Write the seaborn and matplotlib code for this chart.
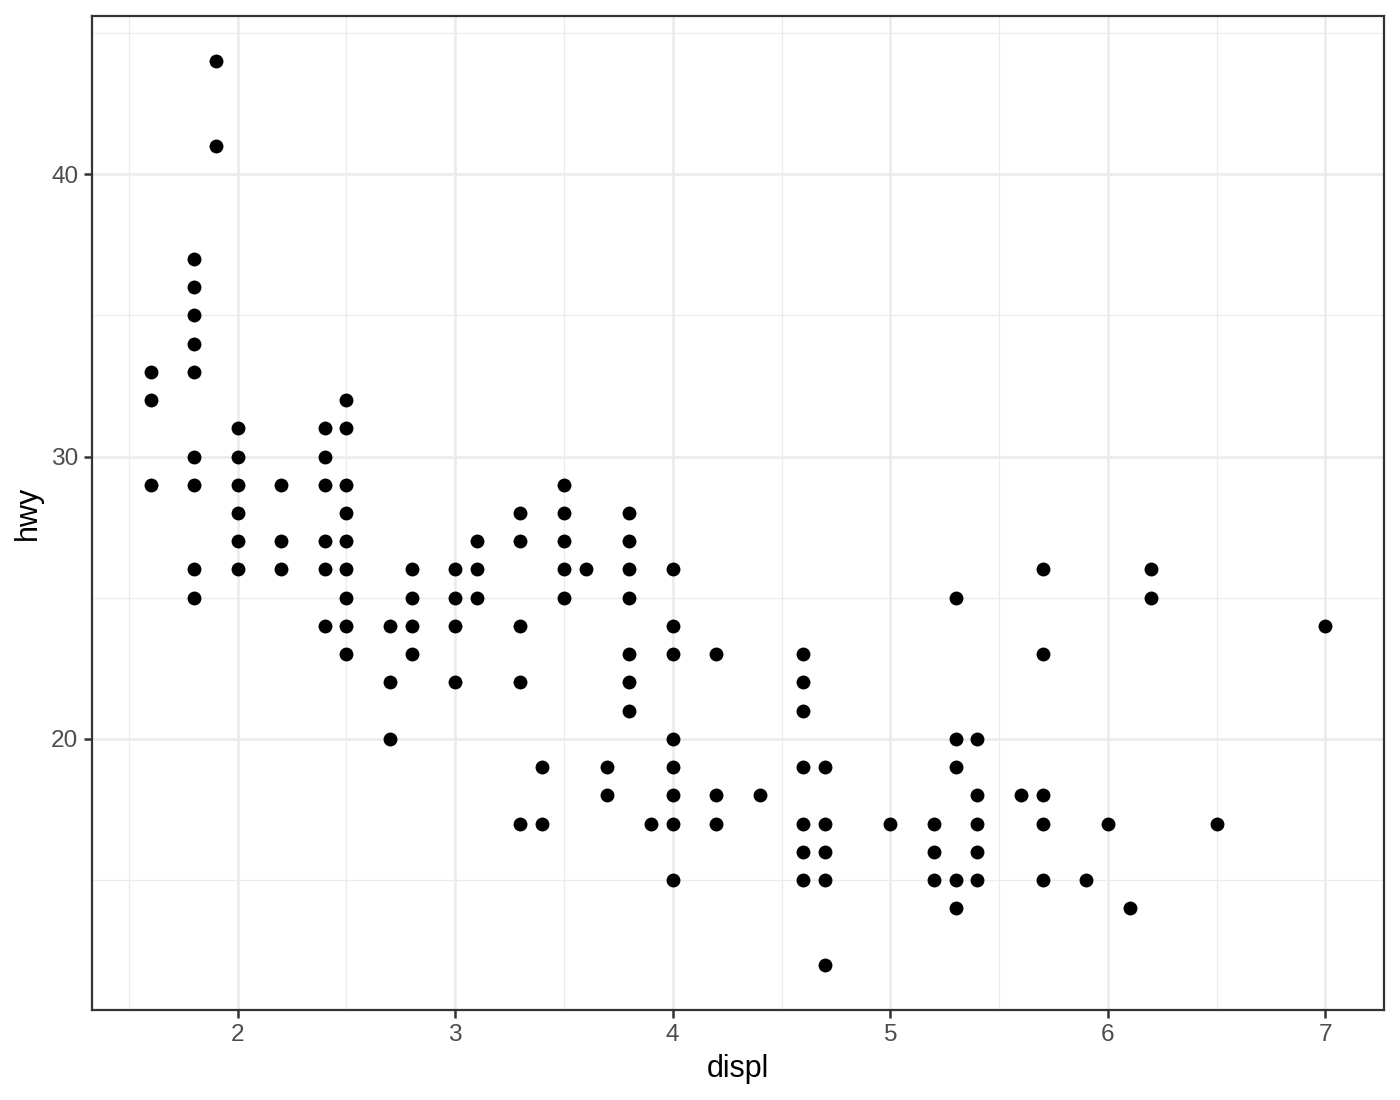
import matplotlib
matplotlib.use("Agg")
import matplotlib.pyplot as plt
import seaborn as sns
import pandas as pd

# unique (displ, hwy) points
displ_values = {
    1.6: [33, 32, 29],
    1.8: [37, 36, 35, 34, 33, 30, 29, 26, 25],
    1.9: [44, 41],
    2.0: [31, 30, 29, 28, 27, 26],
    2.2: [29, 27, 26],
    2.4: [31, 30, 29, 27, 26, 24],
    2.5: [32, 31, 29, 28, 27, 26, 25, 24, 23],
    2.7: [24, 22, 20],
    2.8: [26, 25, 24, 23],
    3.0: [26, 25, 24, 22],
    3.1: [27, 26, 25],
    3.3: [28, 27, 24, 22, 17],
    3.4: [19, 17],
    3.5: [29, 28, 27, 26, 25],
    3.6: [26],
    3.7: [19, 18],
    3.8: [28, 27, 26, 25, 23, 22, 21],
    3.9: [17],
    4.0: [26, 24, 23, 20, 19, 18, 17, 15],
    4.2: [23, 18, 17],
    4.4: [18],
    4.6: [23, 22, 21, 19, 17, 16, 15],
    4.7: [19, 17, 16, 15, 12],
    5.0: [17],
    5.2: [17, 16, 15],
    5.3: [25, 20, 19, 15, 14],
    5.4: [20, 18, 17, 16, 15],
    5.6: [18],
    5.7: [26, 23, 18, 17, 15],
    5.9: [15],
    6.0: [17],
    6.1: [14],
    6.2: [26, 25],
    6.5: [17],
    7.0: [24],
}
displ = [d for d, hs in displ_values.items() for _ in hs]
hwy = [h for hs in displ_values.values() for h in hs]
df = pd.DataFrame({"displ": displ, "hwy": hwy})

x_ticks = [2, 3, 4, 5, 6, 7]
y_ticks = [20, 30, 40]
x_minor = [1.5, 2.5, 3.5, 4.5, 5.5, 6.5]
y_minor = [15, 25, 35, 45]

sns.set_theme(style="white")
plt.rcParams['font.family'] = ['Liberation Sans', 'DejaVu Sans']

fig = plt.figure(figsize=(7, 5.5), dpi=200)
ax = fig.add_axes([92/1400, 1 - 1010/1100, (1384-92)/1400, (1010-16)/1100])

sns.scatterplot(data=df, x="displ", y="hwy", ax=ax, color="black",
                s=25, linewidth=0, zorder=3)

xr = (1.6, 7.0); yr = (12, 44)
xe = (xr[1]-xr[0])*0.05; ye = (yr[1]-yr[0])*0.05
ax.set_xlim(xr[0]-xe, xr[1]+xe)
ax.set_ylim(yr[0]-ye, yr[1]+ye)

ax.set_xticks(x_ticks)
ax.set_yticks(y_ticks)
ax.set_xticks(x_minor, minor=True)
ax.set_yticks(y_minor, minor=True)

ax.set_facecolor("white")
ax.grid(which="major", color="#EBEBEB", linewidth=0.9, zorder=0)
ax.grid(which="minor", color="#EBEBEB", linewidth=0.45, zorder=0)
ax.set_axisbelow(True)

for sp in ax.spines.values():
    sp.set_visible(True)
    sp.set_color("#333333")
    sp.set_linewidth(0.8)
    sp.set_zorder(5)

ax.tick_params(which="major", direction="out", length=2.75, width=0.9,
               color="#333333", labelcolor="#4D4D4D", labelsize=8.8, pad=2.2,
               bottom=True, left=True)
ax.tick_params(which="minor", length=0)

ax.set_xlabel("displ", fontsize=11, color="black", labelpad=3)
ax.set_ylabel("hwy", fontsize=11, color="black", labelpad=3)

fig.savefig("out.png", dpi=200, facecolor="white")
